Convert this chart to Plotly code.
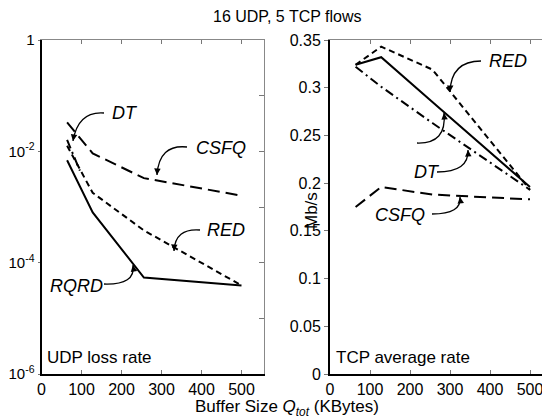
import plotly.graph_objects as go

W, H = 550, 418
OFF = 8  # the page puts the figure 8px in from the top-left corner

# buffer sizes (KBytes)
buf = [64, 128, 256, 500]

# UDP loss rate (left panel, log scale)
udp_rqrd = [0.0069, 0.0008, 0.000054, 0.000039]
udp_red = [0.0126, 0.0018, 0.00038, 0.000039]
udp_csfq = [0.033, 0.0092, 0.0033, 0.0016]
dt_buf = [64, 96]
udp_dt = [0.016, 0.0045]

# TCP average rate, Mb/s (right panel)
tcp_rqrd = [0.324, 0.332, 0.285, 0.196]
tcp_red = [0.324, 0.343, 0.319, 0.193]
tcp_dt = [0.322, 0.301, 0.263, 0.193]
tcp_csfq = [0.175, 0.196, 0.188, 0.183]

x_ticks = [0, 100, 200, 300, 400, 500]
log_ticks = [1, 1e-2, 1e-4, 1e-6]
log_labels = ["1", "10<sup>-2</sup>", "10<sup>-4</sup>", "10<sup>-6</sup>"]
lin_ticks = [0, 0.05, 0.1, 0.15, 0.2, 0.25, 0.3, 0.35]
lin_labels = ["0", "0.05", "0.1", "0.15", "0.2", "0.25", "0.3", "0.35"]

FONT = "Liberation Sans, Arial, sans-serif"
SOLID, SHORT, LONG, DASHDOT = "solid", "6px,4px", "12px,6px", "9px,4px,2px,4px"


def px(x, y):
    # screen pixel -> paper fraction
    return (x - OFF) / W, 1 - (y - OFF) / H


def line(x, y, dash, xa="x", ya="y"):
    return go.Scatter(x=x, y=y, mode="lines", xaxis=xa, yaxis=ya,
                      line=dict(color="black", width=2, dash=dash),
                      hoverinfo="skip", showlegend=False)


fig = go.Figure()
fig.add_trace(line(buf, udp_rqrd, SOLID))
fig.add_trace(line(buf, udp_red, SHORT))
fig.add_trace(line(buf, udp_csfq, LONG))
fig.add_trace(line(dt_buf, udp_dt, DASHDOT))
fig.add_trace(line(buf, tcp_rqrd, SOLID, "x2", "y2"))
fig.add_trace(line(buf, tcp_red, SHORT, "x2", "y2"))
fig.add_trace(line(buf, tcp_dt, DASHDOT, "x2", "y2"))
fig.add_trace(line(buf, tcp_csfq, LONG, "x2", "y2"))
# empty traces so the mirror (top/right) axes get drawn
for xa, ya in [("x3", "y3"), ("x4", "y4")]:
    fig.add_trace(go.Scatter(x=[], y=[], xaxis=xa, yaxis=ya, showlegend=False))

xdom1 = [px(41.5, 0)[0], px(41.5 + 555 * 0.4, 0)[0]]
xdom2 = [px(330, 0)[0], px(548, 0)[0]]
ydom = [px(0, 374)[1], px(0, 40)[1]]
xr1 = [0, 555]
xr2 = [0, 545]

tickfont = dict(family=FONT, size=16, color="black")


def bottom_x(dom, xr, anchor):
    return dict(domain=dom, anchor=anchor, range=xr, tickvals=x_ticks, ticks="inside",
                ticklen=4, tickcolor="#777", showline=True, linecolor="black",
                linewidth=2, showgrid=False, zeroline=False, tickfont=tickfont,
                automargin=False)


def top_x(xr, over, anchor):
    return dict(overlaying=over, anchor=anchor, side="top", range=xr, tickvals=x_ticks,
                ticks="inside", ticklen=4, tickcolor="#777", showline=True,
                linecolor="#888", linewidth=1, showgrid=False, zeroline=False,
                showticklabels=False, automargin=False)


fig.update_layout(
    width=W, height=H, margin=dict(l=0, r=0, t=0, b=0),
    paper_bgcolor="white", plot_bgcolor="white",
    xaxis=bottom_x(xdom1, xr1, "y"),
    yaxis=dict(type="log", range=[-6, 0], domain=ydom, anchor="x",
               tickvals=log_ticks, ticktext=log_labels, ticks="outside", ticklen=2,
               tickcolor="#777", showline=True, linecolor="black", linewidth=2,
               showgrid=False, zeroline=False,
               tickfont=dict(family=FONT, size=15, color="black"), automargin=False),
    xaxis2=bottom_x(xdom2, xr2, "y2"),
    yaxis2=dict(range=[0, 0.35], domain=ydom, anchor="x2",
                tickvals=lin_ticks, ticktext=lin_labels, ticks="outside", ticklen=4,
                tickcolor="#777", showline=True, linecolor="black", linewidth=2,
                showgrid=False, zeroline=False, tickfont=tickfont, automargin=False),
    xaxis3=top_x(xr1, "x", "y3"),
    yaxis3=dict(type="log", range=[-6, 0], overlaying="y", side="right", anchor="x3",
                tickvals=[1, 1e-1, 1e-2, 1e-3, 1e-4, 1e-5, 1e-6], ticks="inside",
                ticklen=5, tickcolor="#777", showline=True, linecolor="#888",
                linewidth=1, showgrid=False, zeroline=False, showticklabels=False,
                automargin=False),
    xaxis4=top_x(xr2, "x2", "y4"),
    yaxis4=dict(range=[0, 0.35], overlaying="y2", side="right", anchor="x4",
                tickvals=lin_ticks, ticks="inside", ticklen=5, tickcolor="#777",
                showline=True, linecolor="#888", linewidth=1, showgrid=False,
                zeroline=False, showticklabels=False, automargin=False),
    showlegend=False,
)

txt = dict(family=FONT, size=17, color="black")
ann = []
ann.append(dict(text="16 UDP, 5 TCP flows", x=px(287, 0)[0], y=px(0, 17)[1],
                xanchor="center", yanchor="middle",
                font=dict(family=FONT, size=16, color="black")))
ann.append(dict(text="Buffer Size <i>Q<sub>tot</sub></i> (KBytes)", x=px(287, 0)[0],
                y=px(0, 408)[1], xanchor="center", yanchor="middle", font=txt))
ann.append(dict(text="Mb/s", x=px(311, 0)[0], y=px(0, 211)[1], textangle=-90,
                xanchor="center", yanchor="middle", font=txt))
ann.append(dict(text="UDP loss rate", x=px(45, 0)[0], y=px(0, 357)[1],
                xanchor="left", yanchor="middle", font=txt))
ann.append(dict(text="TCP average rate", x=px(334, 0)[0], y=px(0, 357)[1],
                xanchor="left", yanchor="middle", font=txt))

# series labels with curved arrows: (text, text x, text y, tail, ctrl, tip) in pixels
labels = [
    ("DT", 110, 113, (104, 113), (78, 111), (73, 141)),
    ("CSFQ", 194, 148, (187, 147), (159, 144), (157, 175)),
    ("RED", 205, 230, (200, 230), (175, 228), (174, 251)),
    ("RQRD", 48, 286, (104, 284), (136, 285), (133, 265)),
    ("RED", 487, 61, (481, 61), (451, 61), (450, 92)),
    ("", 0, 0, (417, 143), (447, 144), (444, 113)),
    ("DT", 412, 172, (437, 172), (469, 172), (468, 150)),
    ("CSFQ", 373, 215, (432, 214), (462, 214), (460, 197)),
]
shapes = []
lab_font = dict(family=FONT, size=18, color="black")
for text, tx, ty, tail, ctrl, tip in labels:
    if text:
        ann.append(dict(text="<i>%s</i>" % text, x=px(tx, 0)[0], y=px(0, ty)[1],
                        xanchor="left", yanchor="middle", font=lab_font))
    p0, p1, p2 = px(*tail), px(*ctrl), px(*tip)
    shapes.append(dict(type="path", xref="paper", yref="paper",
                       path="M %f,%f Q %f,%f %f,%f" % (p0[0], p0[1], p1[0], p1[1], p2[0], p2[1]),
                       line=dict(color="black", width=1.3)))
    dx, dy = ctrl[0] - tip[0], ctrl[1] - tip[1]
    n = (dx * dx + dy * dy) ** 0.5
    ann.append(dict(x=p2[0], y=p2[1], showarrow=True, arrowhead=2, arrowsize=1,
                    arrowwidth=1.3, ax=dx / n * 7, ay=dy / n * 7, arrowcolor="black"))

for a in ann:
    a.setdefault("xref", "paper")
    a.setdefault("yref", "paper")
    a.setdefault("showarrow", False)
    a.setdefault("text", "")
fig.update_layout(annotations=ann, shapes=shapes)

fig.write_html("out.html")
